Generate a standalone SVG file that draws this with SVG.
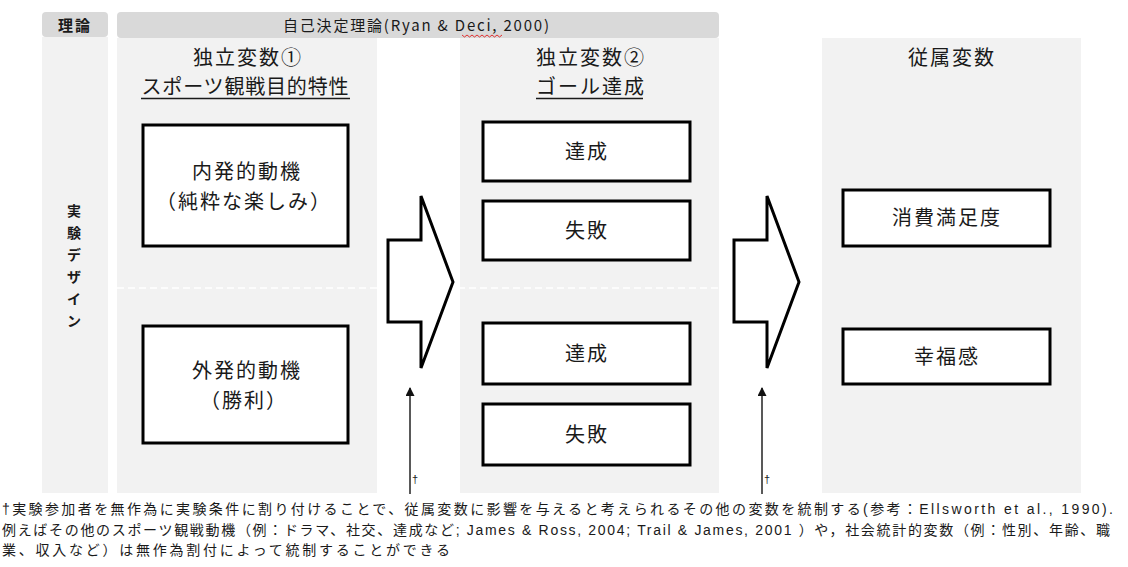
<svg xmlns="http://www.w3.org/2000/svg" width="1128" height="567" viewBox="0 0 1128 567">
<style>
.bg{fill:#ffffff}
.col{fill:#f2f2f2}
.hdr{fill:#d9d9d9}
.box{fill:#ffffff;stroke:#000000;stroke-width:3}
.jp{font-family:'Noto Sans CJK JP','Liberation Sans',sans-serif;fill:#1a1a1a}
.t21{font-size:20px;letter-spacing:2px;text-anchor:middle}
.hd{font-size:15px;text-anchor:middle}
.vt{font-size:14px;font-weight:bold;text-anchor:middle}
.fn{font-family:'Liberation Sans','Noto Sans CJK JP',sans-serif;font-size:14px;fill:#1a1a1a}
.ul{stroke:#1a1a1a;stroke-width:1.5}
.blk{fill:#ffffff;stroke:#000000;stroke-width:3;stroke-linejoin:miter}
.vl{stroke:#222222;stroke-width:1.5;fill:none}
.dag{font-family:'Liberation Sans',sans-serif;font-size:11px;fill:#1a1a1a}
</style>
<defs>
<marker id="ah" viewBox="0 0 10 10" refX="9" refY="5" markerWidth="10" markerHeight="9" markerUnits="userSpaceOnUse" orient="auto">
<path d="M0,0 L10,5 L0,10 Z" fill="#111111"/>
</marker>
</defs>
<rect class="bg" x="0" y="0" width="1128" height="567"/>

<g id="theory-header">
<rect class="hdr" x="42" y="12" width="66" height="25" rx="4"/>
<text class="jp hd" x="75" y="31" font-weight="bold" letter-spacing="2">理論</text>
</g>
<g id="sdt-header">
<rect class="hdr" x="117" y="12" width="602" height="26" rx="4"/>
<text class="jp hd" x="416" y="31" textLength="266" lengthAdjust="spacing">自己決定理論(Ryan &amp; Deci, 2000)</text>
<path d="M462,35 l2.5,2 l2.5,-2 l2.5,2 l2.5,-2 l2.5,2 l2.5,-2 l2.5,2 l2.5,-2 l2.5,2 l2.5,-2 l2.5,2 l2.5,-2 l2.5,2 l2.5,-2 l2.5,2 l2.5,-2" fill="none" stroke="#e03030" stroke-width="1"/>
</g>

<g id="design-column">
<rect class="col" x="42" y="37" width="66" height="456"/>
<text class="jp vt" x="74" y="216">実</text>
<text class="jp vt" x="74" y="238">験</text>
<text class="jp vt" x="74" y="260">デ</text>
<text class="jp vt" x="74" y="282">ザ</text>
<text class="jp vt" x="74" y="304">イ</text>
<text class="jp vt" x="74" y="326">ン</text>
</g>

<g id="iv1-column">
<rect class="col" x="117" y="38" width="260" height="455"/>
<text class="jp t21" x="248" y="65">独立変数①</text>
<text class="jp t21" x="246" y="94" textLength="209" lengthAdjust="spacing">スポーツ観戦目的特性</text>
<line class="ul" x1="141" y1="98.5" x2="350" y2="98.5"/>
</g>

<g id="iv2-column">
<rect class="col" x="460" y="38" width="259" height="455"/>
<text class="jp t21" x="591" y="65">独立変数②</text>
<text class="jp t21" x="591" y="94">ゴール達成</text>
<line class="ul" x1="536" y1="98.5" x2="643" y2="98.5"/>
</g>

<g id="dv-column">
<rect class="col" x="822" y="38" width="259" height="455"/>
<text class="jp t21" x="952" y="65">従属変数</text>
</g>

<g id="divider">
<line x1="117" y1="288" x2="719" y2="288" stroke="#ffffff" stroke-width="1.5" stroke-dasharray="7,4"/>
</g>

<g id="intrinsic">
<rect class="box" x="143" y="125" width="205" height="121"/>
<text class="jp t21" x="247" y="179">内発的動機</text>
<text class="jp t21" x="244" y="209">（純粋な楽しみ）</text>
</g>
<g id="extrinsic">
<rect class="box" x="143" y="326" width="205" height="117"/>
<text class="jp t21" x="247" y="378">外発的動機</text>
<text class="jp t21" x="244" y="408">（勝利）</text>
</g>

<g id="achieve-1">
<rect class="box" x="483" y="122" width="207" height="59"/>
<text class="jp t21" x="587" y="159">達成</text>
</g>
<g id="fail-1">
<rect class="box" x="483" y="201" width="207" height="59"/>
<text class="jp t21" x="587" y="238">失敗</text>
</g>
<g id="achieve-2">
<rect class="box" x="483" y="323" width="207" height="61"/>
<text class="jp t21" x="587" y="361">達成</text>
</g>
<g id="fail-2">
<rect class="box" x="483" y="404" width="207" height="61"/>
<text class="jp t21" x="587" y="442">失敗</text>
</g>

<g id="satisfaction">
<rect class="box" x="843" y="190" width="207" height="56"/>
<text class="jp t21" x="947" y="225">消費満足度</text>
</g>
<g id="wellbeing">
<rect class="box" x="843" y="329" width="207" height="55"/>
<text class="jp t21" x="947" y="364">幸福感</text>
</g>

<g id="connectors">
<polygon class="blk" points="388,240 421,240 421,196 453,282 421,368 421,322 388,322"/>
<polygon class="blk" points="734,240 767,240 767,196 799,282 767,368 767,322 734,322"/>
<line class="vl" x1="410" y1="494" x2="410" y2="388" marker-end="url(#ah)"/>
<line class="vl" x1="762" y1="494" x2="762" y2="388" marker-end="url(#ah)"/>
<text class="dag" x="412" y="483">†</text>
<text class="dag" x="764" y="483">†</text>
</g>

<g id="footnote">
<text class="fn" x="2" y="514" textLength="1111" lengthAdjust="spacing">†実験参加者を無作為に実験条件に割り付けることで、従属変数に影響を与えると考えられるその他の変数を統制する(参考：Ellsworth et al., 1990).</text>
<text class="fn" x="2" y="535" textLength="1108" lengthAdjust="spacing">例えばその他のスポーツ観戦動機（例：ドラマ、社交、達成など; James &amp; Ross, 2004; Trail &amp; James, 2001 ）や，社会統計的変数（例：性別、年齢、職</text>
<text class="fn" x="2" y="555" textLength="448" lengthAdjust="spacing">業、収入など）は無作為割付によって統制することができる</text>
</g>
</svg>
